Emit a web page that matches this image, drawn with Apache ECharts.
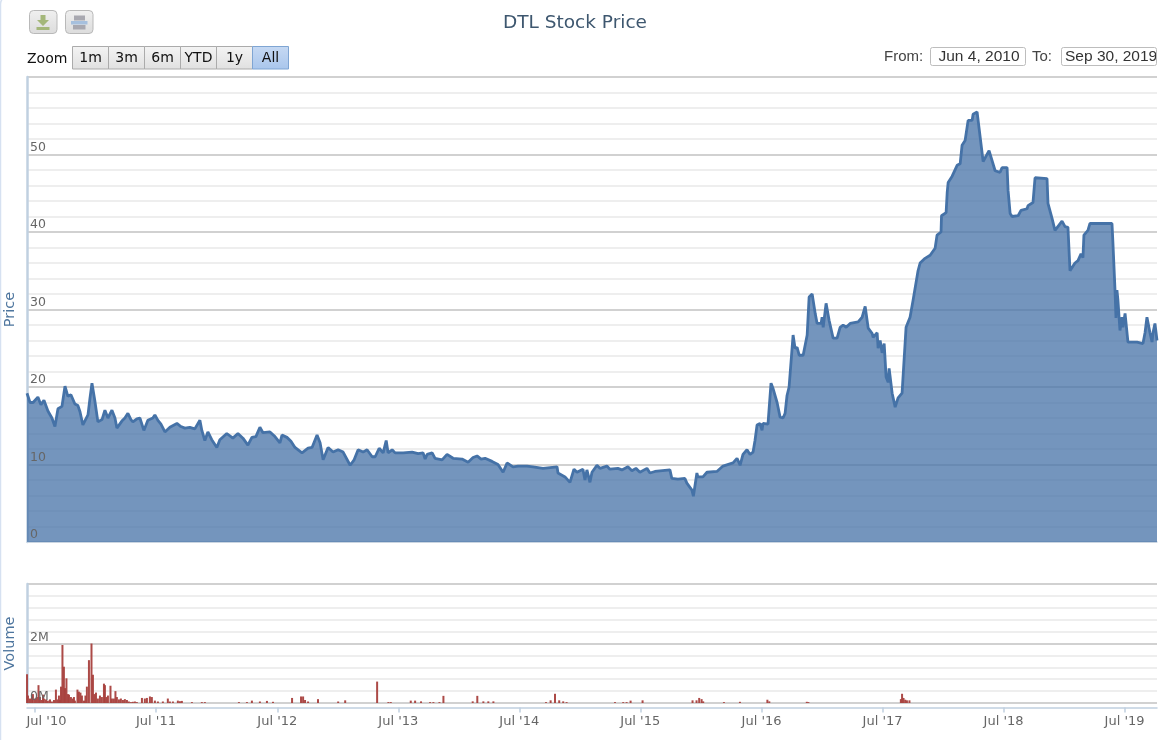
<!DOCTYPE html>
<html><head><meta charset="utf-8">
<style>html,body{margin:0;padding:0;background:#fff}#c{width:1166px;height:740px}</style>
<script src="https://cdn.jsdelivr.net/npm/echarts@6/dist/echarts.min.js"></script>
</head><body><div id="c"></div>
<script>
const titleText = 'DTL Stock Price';
const rangeLabels = ['1m','3m','6m','YTD','1y','All'];
const fromDate = 'Jun 4, 2010';
const toDate = 'Sep 30, 2019';
const tickYears = [2010,2011,2012,2013,2014,2015,2016,2017,2018,2019];
// [decimal year, price]
const pricePoints = [
[2010.43,19.2],[2010.455,18],[2010.48,18],[2010.496,17.9],[2010.52,18.7],[2010.545,17.7],[2010.57,18.3],[2010.603,16.9],[2010.636,16],[2010.661,14.9],
[2010.686,17.2],[2010.719,17.5],[2010.744,20.1],[2010.768,18.8],[2010.793,19],[2010.826,17.8],[2010.851,17.6],[2010.868,16.8],[2010.892,15.1],[2010.934,16.4],
[2010.95,18.5],[2010.967,20.5],[2010.99,18.3],[2011.016,15.5],[2011.05,15.8],[2011.074,17],[2011.099,16],[2011.132,17],[2011.157,16],[2011.173,14.7],
[2011.214,15.6],[2011.239,16],[2011.264,16.6],[2011.289,15.8],[2011.305,15.5],[2011.338,15.9],[2011.363,16],[2011.396,14.4],[2011.429,15.7],[2011.47,16],
[2011.487,16.4],[2011.512,15.7],[2011.537,15.2],[2011.57,14.2],[2011.611,14.8],[2011.669,15.3],[2011.702,14.9],[2011.735,14.7],[2011.776,14.8],[2011.817,14.6],
[2011.859,15.7],[2011.875,14.4],[2011.9,13.1],[2011.925,14.2],[2011.957,13.2],[2011.999,12.2],[2012.024,13.2],[2012.081,14],[2012.131,13.4],[2012.173,14],
[2012.214,13.4],[2012.255,12.5],[2012.288,13.5],[2012.321,13.6],[2012.354,14.8],[2012.379,14.1],[2012.437,14.2],[2012.478,13.6],[2012.519,12.8],[2012.536,13.8],
[2012.577,13.5],[2012.61,13],[2012.643,12.2],[2012.701,11.5],[2012.751,12.1],[2012.784,12.2],[2012.825,13.8],[2012.85,12.8],[2012.875,10.6],[2012.916,12.2],
[2012.957,11.6],[2012.999,11.9],[2013.04,11.6],[2013.098,9.9],[2013.131,10.6],[2013.164,11.9],[2013.205,11.6],[2013.238,11.9],[2013.28,11],[2013.305,11],
[2013.338,12.1],[2013.371,11.5],[2013.396,13.1],[2013.412,11.5],[2013.445,11.9],[2013.47,11.5],[2013.536,11.5],[2013.61,11.6],[2013.66,11.4],[2013.701,11.5],
[2013.718,10.7],[2013.734,11.3],[2013.776,11.5],[2013.8,10.8],[2013.858,10.6],[2013.899,11.3],[2013.949,10.8],[2014.023,10.7],[2014.073,10.3],[2014.114,10.9],
[2014.147,11.1],[2014.18,10.7],[2014.213,10.8],[2014.271,10.4],[2014.32,10],[2014.362,9],[2014.395,10.2],[2014.444,9.7],[2014.486,9.8],[2014.56,9.8],
[2014.61,9.7],[2014.692,9.5],[2014.75,9.6],[2014.808,9.7],[2014.816,8.9],[2014.874,8.4],[2014.915,7.7],[2014.948,9.4],[2014.973,9],[2015.022,9.4],
[2015.039,8],[2015.055,9.3],[2015.08,7.7],[2015.097,9],[2015.138,9.9],[2015.163,9.5],[2015.22,9.8],[2015.245,9.4],[2015.311,9.5],[2015.344,9.3],
[2015.394,9.7],[2015.427,9.2],[2015.46,9.5],[2015.493,9],[2015.551,9.5],[2015.576,8.9],[2015.617,9.1],[2015.741,9.3],[2015.757,8.2],[2015.807,8.1],
[2015.865,8.2],[2015.881,7.6],[2015.923,6.7],[2015.935,5.9],[2015.964,8.9],[2015.972,8.4],[2016.014,8.4],[2016.047,9],[2016.129,9.1],[2016.179,9.8],
[2016.262,10.2],[2016.295,10.8],[2016.32,9.9],[2016.344,11.3],[2016.377,11.9],[2016.402,11.3],[2016.427,11.6],[2016.443,13.1],[2016.46,15.1],[2016.484,15.3],
[2016.501,14.4],[2016.509,15.3],[2016.55,15.2],[2016.575,20.5],[2016.592,19.8],[2016.625,18],[2016.633,17.9],[2016.65,16.1],[2016.674,16],[2016.691,16.6],
[2016.707,18.9],[2016.724,20],[2016.757,26.7],[2016.773,25],[2016.79,25.1],[2016.807,24.1],[2016.84,24.1],[2016.873,26.7],[2016.889,31.6],[2016.914,32],
[2016.939,29.5],[2016.955,28.2],[2016.988,28.2],[2016.996,29],[2017.005,27.7],[2017.029,30.8],[2017.038,30.8],[2017.054,28.6],[2017.087,26.3],[2017.12,26.3],
[2017.145,27.7],[2017.17,28],[2017.195,27.7],[2017.228,28.2],[2017.294,28.4],[2017.327,29],[2017.352,30.4],[2017.377,27.6],[2017.41,26.9],[2017.418,26.4],
[2017.451,27],[2017.459,25],[2017.476,26],[2017.492,24.4],[2017.509,25.6],[2017.525,21.3],[2017.542,20.6],[2017.55,22.4],[2017.575,19.2],[2017.6,17.4],
[2017.624,18.6],[2017.657,19.2],[2017.69,27.7],[2017.723,29],[2017.748,31.2],[2017.789,35],[2017.806,36],[2017.847,36.6],[2017.889,37],[2017.93,37.9],
[2017.946,39.6],[2017.979,40],[2017.983,42.1],[2018.021,42.5],[2018.03,45.1],[2018.038,46.4],[2018.071,47.2],[2018.112,48.6],[2018.137,48.8],[2018.153,51.2],
[2018.178,51.8],[2018.203,54.4],[2018.236,54.4],[2018.244,55.2],[2018.277,55.5],[2018.327,49.1],[2018.343,49.1],[2018.376,50.5],[2018.426,47.9],[2018.467,47.7],
[2018.483,48.3],[2018.525,48.3],[2018.533,45.4],[2018.55,42.4],[2018.566,42],[2018.616,42.1],[2018.64,42.8],[2018.69,43],[2018.698,43.4],[2018.739,43.8],
[2018.756,47],[2018.855,46.9],[2018.863,43.7],[2018.896,41.8],[2018.921,40.2],[2018.979,41.4],[2019.004,40.7],[2019.028,40.6],[2019.045,35],[2019.086,36],
[2019.111,36.3],[2019.136,37.2],[2019.152,36.7],[2019.16,39.6],[2019.193,40.2],[2019.21,41.1],[2019.392,41.1],[2019.4,38.5],[2019.417,32.5],[2019.425,28.9],
[2019.433,32.5],[2019.441,31.2],[2019.458,27.3],[2019.475,29],[2019.483,27.7],[2019.5,29.5],[2019.524,25.8],[2019.599,25.8],[2019.648,25.6],[2019.665,27],
[2019.681,29],[2019.706,27],[2019.723,25.8],[2019.731,27],[2019.747,28.2],[2019.764,26]
];
// [decimal year, volume in millions]
const volumePoints = [
[2010.43,.97],[2010.438,.25],[2010.455,.15],[2010.471,.22],[2010.479,.3],[2010.496,.15],[2010.512,.2],[2010.525,.6],[2010.537,.2],[2010.55,.1],
[2010.562,.28],[2010.57,.15],[2010.587,.12],[2010.603,.08],[2010.62,.12],[2010.636,.05],[2010.653,.1],[2010.669,.45],[2010.682,.12],[2010.694,.25],
[2010.702,.1],[2010.711,.55],[2010.723,1.95],[2010.735,1.22],[2010.744,.5],[2010.756,.83],[2010.768,.3],[2010.777,.28],[2010.793,.2],[2010.806,.15],
[2010.818,.2],[2010.826,.08],[2010.847,.45],[2010.859,.38],[2010.872,.35],[2010.884,.25],[2010.901,.08],[2010.913,.25],[2010.925,.55],[2010.942,1.44],
[2010.963,2],[2010.975,.95],[2010.987,.3],[2011.0,.35],[2011.016,.15],[2011.033,.25],[2011.049,.2],[2011.066,.65],[2011.074,.6],[2011.086,.2],
[2011.099,.25],[2011.12,.58],[2011.132,.15],[2011.148,.15],[2011.161,.4],[2011.173,.2],[2011.19,.12],[2011.206,.15],[2011.223,.1],[2011.239,.13],
[2011.256,.1],[2011.272,.05],[2011.289,.03],[2011.305,.04],[2011.322,.05],[2011.338,.03],[2011.38,.17],[2011.404,.15],[2011.421,.17],[2011.446,.22],
[2011.462,.2],[2011.487,.08],[2011.512,.05],[2011.553,.05],[2011.594,.15],[2011.611,.05],[2011.636,.05],[2011.677,.08],[2011.694,.06],[2011.71,.07],
[2011.793,.03],[2011.875,.03],[2011.9,.03],[2012.181,.03],[2012.247,.03],[2012.288,.08],[2012.354,.05],[2012.412,.07],[2012.462,.04],[2012.619,.17],
[2012.693,.22],[2012.71,.22],[2012.726,.1],[2012.751,.05],[2012.833,.13],[2012.999,.05],[2013.057,.09],[2013.321,.72],[2013.414,.03],[2013.434,.03],
[2013.599,.08],[2013.635,.08],[2013.684,.055],[2013.759,.03],[2013.786,.03],[2013.836,.03],[2013.869,.24],[2014.111,.055],[2014.149,.24],[2014.199,.055],
[2014.24,.055],[2014.282,.055],[2014.717,.03],[2014.755,.09],[2014.791,.31],[2014.826,.09],[2014.859,.055],[2014.887,.03],[2015.287,.03],[2015.355,.03],
[2015.383,.03],[2015.416,.08],[2015.515,.09],[2015.928,.09],[2015.961,.09],[2015.983,.17],[2016.003,.13],[2016.016,.055],[2016.187,.03],[2016.319,.04],
[2016.545,.11],[2016.561,.055],[2016.87,.04],[2016.883,.03],[2017.647,.13],[2017.657,.31],[2017.669,.17],[2017.683,.11],[2017.697,.09],[2017.718,.09]
];
const axisStartYear = 2010.43;
const axisEndYear = 2019.764;

function yearToTime(y){
  const w = Math.floor(y), a = Date.UTC(w,0,1), b = Date.UTC(w+1,0,1);
  return a + (y-w)*(b-a);
}
const priceData = pricePoints.map(p=>[yearToTime(p[0]),p[1]]);
const volumeData = volumePoints.map(p=>[yearToTime(p[0]),p[1]]);
const ticks = tickYears.map(y=>Date.UTC(y,6,1));
const UI = 'DejaVu Sans';
const grad = (a,b)=>new echarts.graphic.LinearGradient(0,0,0,1,[{offset:0,color:a},{offset:1,color:b}]);

const graphic = [];
graphic.push({type:'rect',silent:true,shape:{x:0.5,y:-4,width:1180,height:800,r:8},style:{fill:'none',stroke:'#D6E1F1',lineWidth:1.5}});
// export / print buttons
[29.5,65.5].forEach(x=>graphic.push({type:'rect',silent:true,shape:{x:x,y:10.5,width:27.5,height:23,r:4},style:{fill:grad('#F0F0F0','#DCDCDC'),stroke:'#B9B9B9',lineWidth:1}}));
graphic.push({type:'polygon',silent:true,shape:{points:[[40.5,15],[45.5,15],[45.5,20],[49,20],[43,26],[37,20],[40.5,20]]},style:{fill:'#A4B77A'}});
graphic.push({type:'rect',silent:true,shape:{x:36.5,y:27,width:13,height:3},style:{fill:'#A4B77A'}});
graphic.push({type:'rect',silent:true,shape:{x:74,y:15.5,width:11,height:5},style:{fill:'#A8A8B0'}});
graphic.push({type:'rect',silent:true,shape:{x:71,y:21,width:16.5,height:3.5},style:{fill:'#A6C0DE'}});
graphic.push({type:'rect',silent:true,shape:{x:73,y:25,width:12.5,height:4.5},style:{fill:'#A8A8B0'}});
// range selector
graphic.push({type:'text',silent:true,style:{x:27,y:59,text:'Zoom',font:'14px "DejaVu Sans"',fill:'#111',verticalAlign:'middle'}});
rangeLabels.forEach((t,i)=>{
  const x = 72.5+i*36, sel = t==='All';
  graphic.push({type:'rect',silent:true,z:sel?6:5,shape:{x:x,y:46.5,width:36,height:22.5},style:{fill:sel?grad('#C6D9F3','#A9C6EC'):grad('#F4F4F4','#E0E0E0'),stroke:sel?'#7FA5D3':'#ABABAB',lineWidth:1}});
  graphic.push({type:'text',silent:true,z:7,style:{x:x+18,y:58,text:t,font:'14px "DejaVu Sans"',fill:'#111',align:'center',verticalAlign:'middle'}});
});
// date inputs
graphic.push({type:'text',silent:true,style:{x:884,y:57,text:'From:',font:'15px "Liberation Sans"',fill:'#444',verticalAlign:'middle'}});
graphic.push({type:'text',silent:true,style:{x:1032,y:57,text:'To:',font:'15px "Liberation Sans"',fill:'#444',verticalAlign:'middle'}});
graphic.push({type:'text',silent:true,z:5,style:{x:938.5,y:56.5,text:fromDate,font:'15.5px "Liberation Sans"',fill:'#333',verticalAlign:'middle'}});
graphic.push({type:'text',silent:true,z:5,style:{x:1065,y:56.5,text:toDate,font:'15.5px "Liberation Sans"',fill:'#333',verticalAlign:'middle'}});
graphic.push({type:'rect',silent:true,z:6,shape:{x:1156.5,y:44,width:10,height:24},style:{fill:'#fff'}});
[[930,95],[1061,95]].forEach(b=>graphic.push({type:'rect',silent:true,z:7,shape:{x:b[0]+.5,y:47.5,width:b[1],height:18,r:2},style:{fill:'none',stroke:'#BDBDBD',lineWidth:1}}));

const major = {show:true,lineStyle:{color:'#C2C2C2',width:1.5}};
const minor = {show:true,lineStyle:{color:'#E9E9E9',width:1.5}};
const xRange = {type:'value',min:yearToTime(axisStartYear),max:yearToTime(axisEndYear),splitLine:{show:false},minorSplitLine:{show:false}};
// grid-line axis: rule lines and title, drawn under the series
const ruleAxis = (grid,name,max,interval)=>({gridIndex:grid,type:'value',position:'left',min:0,max:max,interval:interval,name:name,nameLocation:'middle',nameRotate:90,nameGap:9,
  nameTextStyle:{color:'#4D759E',fontFamily:UI,fontSize:14.5},
  axisLine:{show:true,onZero:false,lineStyle:{color:'#C0D0E0',width:2.5}},axisTick:{show:false},axisLabel:{show:false},
  minorTick:{show:false,splitNumber:5},splitLine:major,minorSplitLine:minor});
// label axis: tick numbers inside the plot, drawn over the series
const labelAxis = (grid,max,interval,fmt,lh)=>({gridIndex:grid,type:'value',position:'left',z:5,min:0,max:max,interval:interval,
  axisLine:{show:false},axisTick:{show:false},splitLine:{show:false},minorSplitLine:{show:false},
  axisLabel:{inside:true,margin:3,color:'#666',fontFamily:UI,fontSize:12.5,verticalAlign:'bottom',lineHeight:lh,showMaxLabel:false,formatter:fmt}});

const option = {
  animation:false, backgroundColor:'#fff',
  title:{text:titleText,left:570,textAlign:'center',top:9,textStyle:{fontFamily:UI,fontSize:18.5,fontWeight:'normal',color:'#3E576F'}},
  graphic:{elements:graphic},
  grid:[
    {left:27,right:9,top:77,bottom:198,containLabel:false,outerBoundsMode:'none'},
    {left:27,right:9,top:584,bottom:37,containLabel:false,outerBoundsMode:'none'}
  ],
  xAxis:[
    Object.assign({gridIndex:0,axisLabel:{show:false},axisTick:{show:false},axisLine:{show:true,onZero:false,lineStyle:{color:'#C8D6E6',width:1.5}}},xRange),
    Object.assign({gridIndex:1,offset:4.5,
      axisLine:{show:true,onZero:false,lineStyle:{color:'#C0D0E0',width:1.5}},
      axisTick:{show:true,length:5,lineStyle:{color:'#C0D0E0',width:1.5},customValues:ticks},
      axisLabel:{show:true,margin:8,color:'#666',fontFamily:UI,fontSize:13,hideOverlap:false,customValues:ticks,
        formatter:v=>{const s="Jul '"+String(new Date(v).getUTCFullYear()).slice(2);return v===ticks[0]?'{first|'+s+'}':s;},
        rich:{first:{padding:[0,0,0,23],color:'#666',fontFamily:UI,fontSize:13}}}},xRange)
  ],
  yAxis:[
    ruleAxis(0,'Price',60,10),
    ruleAxis(1,'Volume',4,2),
    labelAxis(0,60,10,v=>String(v),14),
    labelAxis(1,4,2,v=>v+'M',12)
  ],
  series:[
    {type:'line',name:'Price',xAxisIndex:0,yAxisIndex:0,data:priceData,showSymbol:false,symbol:'none',
     lineStyle:{color:'#4572A7',width:2.8},areaStyle:{color:'#4572A7',opacity:.75},clip:true},
    {type:'bar',name:'Volume',xAxisIndex:1,yAxisIndex:1,data:volumeData,barWidth:2,
     itemStyle:{color:'#A8403D',opacity:.95}}
  ]
};
echarts.init(document.getElementById('c'),null,{renderer:'canvas'}).setOption(option);
</script></body></html>
